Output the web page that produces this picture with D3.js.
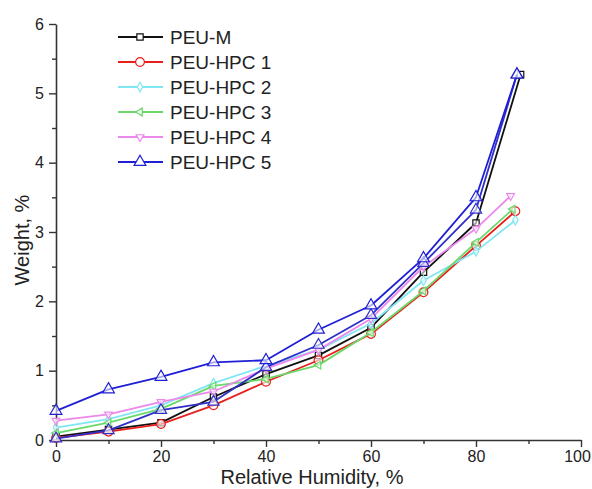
<!DOCTYPE html>
<html><head><meta charset="utf-8">
<script src="https://cdn.jsdelivr.net/npm/d3@7"></script>
<style>
html,body{margin:0;padding:0;background:#fff;}
svg{display:block;font-family:"Liberation Sans",Arial,sans-serif;}
</style></head>
<body><svg id="c" width="592" height="489"></svg>
<script>
// ---- data ----
const seriesNames = ["PEU-M","PEU-HPC 1","PEU-HPC 2","PEU-HPC 3","PEU-HPC 4","PEU-HPC 5"];
const rhPEUM = [0,10,20,30,40,50,60,70,80,88.5];
const wPEUM  = [0.05,0.15,0.25,0.62,0.95,1.22,1.62,2.42,3.13,5.27];
const rhHPC1 = [0,10,20,30,40,50,60,70,80,87.5];
const wHPC1  = [0.03,0.12,0.23,0.50,0.84,1.15,1.53,2.13,2.80,3.30];
const rhHPC2 = [0,10,20,30,40,50,60,70,80,87.5];
const wHPC2  = [0.18,0.30,0.50,0.82,1.07,1.30,1.68,2.30,2.72,3.17];
const rhHPC3 = [0,10,20,30,40,50,60,70,80,87];
const wHPC3  = [0.10,0.25,0.45,0.78,0.88,1.08,1.55,2.15,2.85,3.33];
const rhHPC4 = [0,10,20,30,40,50,60,70,80,86.6];
const wHPC4  = [0.28,0.37,0.55,0.70,1.03,1.30,1.75,2.50,3.05,3.52];
const rhHPC5 = [0,10,20,30,40,50,60,70,80,87.8];
const wHPC5  = [0.42,0.73,0.91,1.12,1.15,1.59,1.94,2.62,3.50,5.27];
// second (unlabelled) blue triangle curve visible in the figure
const rhHPC5b = [0,10,20,30,40,50,60,70,80,87.8];
const wHPC5b  = [0.02,0.14,0.43,0.55,1.05,1.37,1.80,2.55,3.32,5.27];
const xTicks = [0,20,40,60,80,100];
const yTicks = [0,1,2,3,4,5,6];

// ---- styles ----
const styles = [
  {color:"#111111", sym:d3.symbolSquare, size:40, rot:0},
  {color:"#e8201c", sym:d3.symbolCircle, size:60, rot:0},
  {color:"#7fe6f2", sym:d3.symbolDiamond, size:26, rot:0},
  {color:"#6ad86a", sym:d3.symbolTriangle, size:26, rot:-90},
  {color:"#ec88ec", sym:d3.symbolTriangle, size:26, rot:180},
  {color:"#1f1fd6", sym:d3.symbolTriangle, size:60, rot:0}
];
const series = [
  {name:seriesNames[0], x:rhPEUM, y:wPEUM, st:styles[0], legend:true},
  {name:seriesNames[1], x:rhHPC1, y:wHPC1, st:styles[1], legend:true},
  {name:seriesNames[2], x:rhHPC2, y:wHPC2, st:styles[2], legend:true},
  {name:seriesNames[3], x:rhHPC3, y:wHPC3, st:styles[3], legend:true},
  {name:seriesNames[4], x:rhHPC4, y:wHPC4, st:styles[4], legend:true},
  {name:"", x:rhHPC5b, y:wHPC5b, st:{color:"#3030c8", sym:d3.symbolTriangle, size:55, rot:0}, legend:false},
  {name:seriesNames[5], x:rhHPC5, y:wHPC5, st:styles[5], legend:true}
];

const svg = d3.select("#c");
const x = d3.scaleLinear().domain([0,100]).range([56,581]);
const y = d3.scaleLinear().domain([0,6]).range([440,24]);

// axes
svg.append("g").attr("transform","translate(0,440)")
  .call(d3.axisBottom(x).tickValues(xTicks).tickFormat(d3.format("d")).tickSize(7).tickSizeOuter(0).tickPadding(4));
svg.append("g").attr("transform","translate(0,440)")
  .call(d3.axisBottom(x).tickValues(d3.range(10,100,20)).tickSize(4).tickFormat("").tickSizeOuter(0))
  .select(".domain").remove();
svg.append("g").attr("transform","translate(56,0)")
  .call(d3.axisLeft(y).tickValues(yTicks).tickFormat(d3.format("d")).tickSize(7).tickSizeOuter(0).tickPadding(5));
svg.append("g").attr("transform","translate(56,0)")
  .call(d3.axisLeft(y).tickValues(d3.range(0.5,6,1)).tickSize(4).tickFormat("").tickSizeOuter(0))
  .select(".domain").remove();
svg.selectAll(".domain").attr("stroke","#333").attr("stroke-width",1.6);
svg.selectAll(".tick line").attr("stroke","#333").attr("stroke-width",1.4);
svg.selectAll(".tick text").attr("font-size",16).attr("fill","#222")
  .attr("font-family","'Liberation Sans',Arial,sans-serif");
svg.selectAll(".tick text").filter(d=>d===100).attr("dx",-4);

// titles
svg.append("text").attr("x",312).attr("y",484).attr("text-anchor","middle")
  .attr("font-size",20).attr("fill","#222").text("Relative Humidity, %");
svg.append("text").attr("transform","translate(29,240) rotate(-90)").attr("text-anchor","middle")
  .attr("font-size",20).attr("fill","#222").text("Weight, %");

// lines and markers
const line = d3.line().x(d=>x(d[0])).y(d=>y(d[1]));
series.forEach(s=>{
  const pts = s.x.map((v,i)=>[v,s.y[i]]);
  const g = svg.append("g");
  g.append("path").datum(pts).attr("d",line).attr("fill","none")
    .attr("stroke",s.st.color).attr("stroke-width",1.8).attr("stroke-linejoin","round");
  g.selectAll("path.m").data(pts).join("path").attr("class","m")
    .attr("d",d3.symbol().type(s.st.sym).size(s.st.size))
    .attr("transform",d=>`translate(${x(d[0])},${y(d[1])}) rotate(${s.st.rot})`)
    .attr("fill","#fff").attr("fill-opacity",0.6).attr("stroke",s.st.color).attr("stroke-width",1.2);
});

// legend
const leg = svg.append("g");
series.filter(s=>s.legend).forEach((s,i)=>{
  const yy = 37 + i*25;
  leg.append("line").attr("x1",118).attr("x2",163).attr("y1",yy).attr("y2",yy)
    .attr("stroke",s.st.color).attr("stroke-width",1.8);
  leg.append("path").attr("d",d3.symbol().type(s.st.sym).size(s.st.size)())
    .attr("transform",`translate(140,${yy}) rotate(${s.st.rot})`)
    .attr("fill","#fff").attr("stroke",s.st.color).attr("stroke-width",1.2);
  leg.append("text").attr("x",170).attr("y",yy).attr("dy","0.36em")
    .attr("font-size",19).attr("fill","#222").text(s.name);
});
</script></body></html>
